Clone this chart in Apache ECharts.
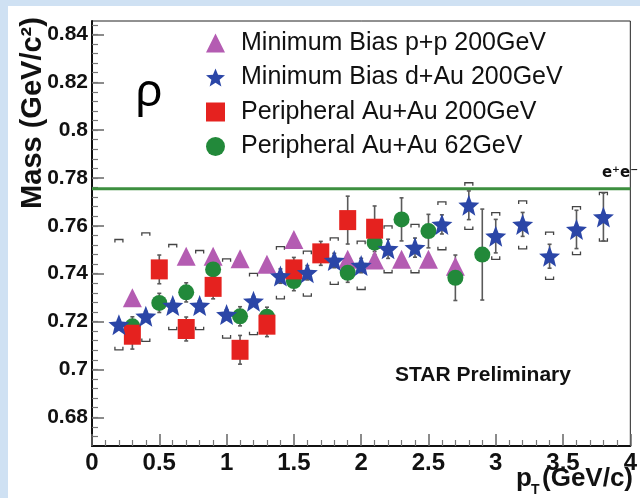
<!DOCTYPE html>
<html>
<head>
<meta charset="utf-8">
<script src="https://cdn.jsdelivr.net/npm/echarts@6/dist/echarts.min.js"></script>
<style>
  html, body { margin: 0; padding: 0; background: #cfe1f3; }
  #chart { width: 640px; height: 498px; }
</style>
</head>
<body>
<div id="chart"></div>
<script>
// Rho meson mass vs transverse momentum, four collision systems

// Minimum Bias p+p 200GeV
const ptTri   = [0.3, 0.7, 0.9, 1.1, 1.3, 1.5, 1.9, 2.1, 2.3, 2.5, 2.7];
const massTri = [0.730, 0.7473, 0.7473, 0.7462, 0.7439, 0.7543, 0.746, 0.7457, 0.746, 0.746, 0.7431];

// Minimum Bias d+Au 200GeV
const ptStar   = [0.2, 0.4, 0.6, 0.8, 1.0, 1.2, 1.4, 1.6, 1.8, 2.0, 2.2, 2.4, 2.6, 2.8, 3.0, 3.2, 3.4, 3.6, 3.8];
const massStar = [0.7187, 0.7222, 0.7267, 0.7267, 0.7229, 0.7285, 0.739, 0.7404, 0.7455, 0.7434,
                  0.7504, 0.7509, 0.7606, 0.7686, 0.7557, 0.7606, 0.7473, 0.7585, 0.7637];
const errStar  = [0.002, 0.002, 0.002, 0.002, 0.002, 0.002, 0.003, 0.003, 0.003, 0.003,
                  0.004, 0.004, 0.004, 0.006, 0.007, 0.005, 0.005, 0.008, 0.010];
const sysStarHi = [0.7543, 0.7571, 0.7522, 0.7497, 0.7462, 0.7401, 0.7513, 0.7494, 0.755, 0.7536,
                   0.760, 0.7606, 0.770, 0.778, 0.7655, 0.7704, 0.7574, 0.768, 0.774];
const sysStarLo = [0.7082, 0.7117, 0.7166, 0.7166, 0.7131, 0.7145, 0.7295, 0.7306, 0.7355, 0.7334,
                   0.7404, 0.7404, 0.750, 0.7585, 0.746, 0.7504, 0.7376, 0.748, 0.7536];

// Peripheral Au+Au 200GeV
const ptSq   = [0.3, 0.5, 0.7, 0.9, 1.1, 1.3, 1.5, 1.7, 1.9, 2.1];
const massSq = [0.7145, 0.7418, 0.7169, 0.7345, 0.7082, 0.7187, 0.7418, 0.7485, 0.7624, 0.7588];
const errSq  = [0.006, 0.006, 0.005, 0.005, 0.006, 0.005, 0.005, 0.005, 0.010, 0.0095];

// Peripheral Au+Au 62GeV
const ptCirc   = [0.3, 0.5, 0.7, 0.9, 1.1, 1.3, 1.5, 1.9, 2.1, 2.3, 2.5, 2.7, 2.9];
const massCirc = [0.718, 0.7278, 0.7322, 0.7418, 0.7222, 0.722, 0.7369, 0.7404, 0.753, 0.7627, 0.7578, 0.7383, 0.748];
const errCirc  = [0.004, 0.004, 0.004, 0.004, 0.004, 0.004, 0.004, 0.004, 0.005, 0.009, 0.007, 0.0095, 0.019];

// Vacuum rho mass from e+e-
const rhoMass = 0.7755;

// Axis ranges and tick labels
const xMin = 0, xMax = 4, xStep = 0.5;
const yMin = 0.668, yMax = 0.8456;
const yTickLabels = [0.68, 0.70, 0.72, 0.74, 0.76, 0.78, 0.80, 0.82, 0.84];
const yMinorStep = 0.004;

const seriesNames = [
  'Minimum Bias p+p 200GeV',
  'Minimum Bias d+Au 200GeV',
  'Peripheral Au+Au 200GeV',
  'Peripheral Au+Au 62GeV'
];

const yMinorTicks = [];
for (let v = 0.672; v < yMax; v += yMinorStep) yMinorTicks.push(+v.toFixed(4));

const starPath = 'path://M100,0 L125.5,64 L195.1,69.1 L141,113 L158.8,180.9 L100,143 L41.2,180.9 L59,113 L4.9,69.1 L74.5,64 Z';

const zip = (xs, ys) => xs.map((x, i) => [x, ys[i]]);

function errorBars(xs, ys, errs, z) {
  return {
    type: 'custom', z: z, silent: true,
    data: xs.map((x, i) => [x, ys[i] - errs[i], ys[i] + errs[i]]),
    encode: { x: 0, y: [1, 2] },
    renderItem(params, api) {
      const lo = api.coord([api.value(0), api.value(1)]);
      const hi = api.coord([api.value(0), api.value(2)]);
      const st = { stroke: '#5a5a5a', lineWidth: 1.6 };
      return { type: 'group', children: [
        { type: 'line', shape: { x1: lo[0], y1: lo[1], x2: hi[0], y2: hi[1] }, style: st },
        { type: 'line', shape: { x1: lo[0] - 2, y1: lo[1], x2: lo[0] + 2, y2: lo[1] }, style: st },
        { type: 'line', shape: { x1: hi[0] - 2, y1: hi[1], x2: hi[0] + 2, y2: hi[1] }, style: st }
      ] };
    }
  };
}

function sysBrackets(xs, los, his, z) {
  return {
    type: 'custom', z: z, silent: true,
    data: xs.map((x, i) => [x, los[i], his[i]]),
    encode: { x: 0, y: [1, 2] },
    renderItem(params, api) {
      const lo = api.coord([api.value(0), api.value(1)]);
      const hi = api.coord([api.value(0), api.value(2)]);
      const w = 4, t = 3;
      const st = { stroke: '#444', lineWidth: 1.3, fill: null };
      return { type: 'group', children: [
        { type: 'polyline', shape: { points: [[hi[0] - w, hi[1] + t], [hi[0] - w, hi[1]], [hi[0] + w, hi[1]], [hi[0] + w, hi[1] + t]] }, style: st },
        { type: 'polyline', shape: { points: [[lo[0] - w, lo[1] - t], [lo[0] - w, lo[1]], [lo[0] + w, lo[1]], [lo[0] + w, lo[1] - t]] }, style: st }
      ] };
    }
  };
}

const chart = echarts.init(document.getElementById('chart'), null, { renderer: 'canvas' });

const tickFont = { fontFamily: 'Liberation Sans', fontWeight: 'bold', color: '#111' };

chart.setOption({
  animation: false,
  backgroundColor: 'transparent',
  graphic: [
    { type: 'rect', z: -10, shape: { x: 8, y: 6, width: 640, height: 498 }, style: { fill: '#ffffff' } },
    { type: 'text', z: 10, x: 149, y: 93,
      style: { text: 'ρ', font: '46px "Noto Sans"', fill: '#000', align: 'center', verticalAlign: 'middle' } },
    { type: 'text', z: 10, x: 33, y: 113, rotation: Math.PI / 2,
      style: { text: 'Mass (GeV/c²)', font: 'bold 29px "Liberation Sans"', fill: '#111', align: 'center', verticalAlign: 'middle' } },
    { type: 'text', z: 10, x: 483, y: 375,
      style: { text: 'STAR Preliminary', font: 'bold 21px "Liberation Sans"', fill: '#111', align: 'center', verticalAlign: 'middle' } },
    { type: 'text', z: 10, x: 620, y: 181,
      style: { text: 'e⁺e⁻', font: 'bold 15px "DejaVu Sans"', fill: '#111', align: 'center', verticalAlign: 'bottom' } },
    { type: 'group', z: 10, x: 516, y: 479, children: [
      { type: 'text', x: 0, y: 0, style: { text: 'p', font: 'bold 26px "Liberation Sans"', fill: '#111', verticalAlign: 'middle' } },
      { type: 'text', x: 15, y: 11, style: { text: 'T', font: 'bold 14px "Liberation Sans"', fill: '#111', verticalAlign: 'middle' } },
      { type: 'text', x: 26, y: 0, style: { text: '(GeV/c)', font: 'bold 26px "Liberation Sans"', fill: '#111', verticalAlign: 'middle' } }
    ] }
  ],
  legend: {
    data: seriesNames,
    orient: 'vertical',
    left: 201, top: 23,
    itemWidth: 19, itemHeight: 19, itemGap: 4.5,
    textStyle: { fontFamily: 'Liberation Sans', fontSize: 25, color: '#111', lineHeight: 30, padding: [0, 0, 0, 11] }
  },
  grid: {
    left: 92, right: 2, top: 21, bottom: 52,
    show: true, borderColor: '#222', borderWidth: 1, backgroundColor: '#fff'
  },
  xAxis: {
    type: 'value', min: xMin, max: xMax, interval: xStep,
    axisLine: { show: true, lineStyle: { color: '#111', width: 2 } },
    axisTick: { show: true, inside: true, length: 12, lineStyle: { color: '#666', width: 1.5 } },
    minorTick: { show: true, splitNumber: 5, length: 6, lineStyle: { color: '#777', width: 1.2 } },
    splitLine: { show: false },
    axisLabel: Object.assign({ margin: 5, fontSize: 24, formatter: v => String(v) }, tickFont)
  },
  yAxis: [
    {
      type: 'value', min: yMin, max: yMax,
      axisLine: { show: true, lineStyle: { color: '#111', width: 2 } },
      axisTick: { show: true, inside: true, length: 12, customValues: yTickLabels, lineStyle: { color: '#666', width: 1.5 } },
      splitLine: { show: false },
      axisLabel: Object.assign({ margin: 4, fontSize: 21, customValues: yTickLabels, formatter: v => String(+v.toFixed(2)) }, tickFont)
    },
    {
      type: 'value', min: yMin, max: yMax, position: 'left',
      axisLine: { show: false },
      axisTick: { show: true, inside: true, length: 6, customValues: yMinorTicks, lineStyle: { color: '#777', width: 1.2 } },
      splitLine: { show: false },
      axisLabel: { show: false }
    }
  ],
  series: [
    {
      type: 'line', z: 1, silent: true, symbol: 'none',
      data: [[xMin, rhoMass], [xMax, rhoMass]],
      lineStyle: { color: '#3d8f3f', width: 3 }
    },
    sysBrackets(ptStar, sysStarLo, sysStarHi, 2),
    errorBars(ptCirc, massCirc, errCirc, 3),
    errorBars(ptSq, massSq, errSq, 3),
    errorBars(ptStar, massStar, errStar, 3),
    {
      name: seriesNames[0], type: 'scatter', z: 4, symbol: 'triangle', symbolSize: [19, 19],
      itemStyle: { color: '#b45cb2', opacity: 1 }, data: zip(ptTri, massTri)
    },
    {
      name: seriesNames[3], type: 'scatter', z: 5, symbol: 'circle', symbolSize: 16,
      itemStyle: { color: '#22893a', opacity: 1 }, data: zip(ptCirc, massCirc)
    },
    {
      name: seriesNames[2], type: 'scatter', z: 6, symbol: 'rect', symbolSize: [17, 20],
      itemStyle: { color: '#e5221f', opacity: 1 }, data: zip(ptSq, massSq)
    },
    {
      name: seriesNames[1], type: 'scatter', z: 7, symbol: starPath, symbolSize: [21, 21],
      itemStyle: { color: '#2b46a7', opacity: 1 }, data: zip(ptStar, massStar)
    }
  ]
});
</script>
</body>
</html>
